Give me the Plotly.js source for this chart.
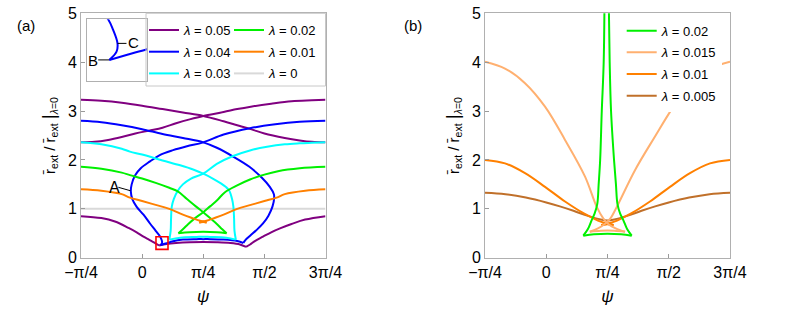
<!DOCTYPE html>
<html>
<head>
<meta charset="utf-8">
<script src="https://cdn.plot.ly/plotly-3.0.1.min.js"></script>
<style>html,body{margin:0;padding:0;background:#fff;}#chart{width:789px;height:314px;}</style>
</head>
<body>
<div id="chart"></div>
<script>
// ---------- tick labels ----------
const tickVals = [-45, 0, 45, 90, 135];            // psi in degrees
const tickText = ['\u2212\u03c0/4', '0', '\u03c0/4', '\u03c0/2', '3\u03c0/4'];
const yTickVals = [0, 1, 2, 3, 4, 5];

// ---------- panel (a) ----------
const a005UpDecX = [-45,-30,-15,0,15,30,45,60,70,80,90,105,116,125,135];
const a005UpDecY = [3.23,3.21,3.17,3.11,3.04,2.97,2.90,2.79,2.71,2.63,2.54,2.45,2.40,2.37,2.36];
const a005UpIncX = [-45,-35,-25,-15,-5,5,15,25,35,45,60,70,80,95,110,125,135];
const a005UpIncY = [2.36,2.37,2.41,2.47,2.54,2.60,2.66,2.75,2.83,2.90,2.98,3.04,3.09,3.15,3.20,3.22,3.23];
const a005LowX = [-45,-30,-20,-10,-4,1,5,9,12.5,18,25,35,45,55,65,72,76.5,79.5,83,89,95,101.5,110,120,135];
const a005LowY = [0.85,0.81,0.74,0.61,0.52,0.43,0.37,0.31,0.25,0.28,0.30,0.315,0.32,0.315,0.30,0.27,0.22,0.27,0.34,0.43,0.52,0.60,0.69,0.78,0.85];
const a005LowCusps = [8, 16];

const a004X = [-45,-30,-15,0,15,30,45,55,67,79,88,94,97,97.2,96,93,89,84,79.5,76,74.5,
               70,60,50,45,40,30,22,19,16,13.5,
               14.56,14.7,14.06,13.33,10,5.8,1,-4,-7.2,-8.3,-7.7,-5,-1,5.8,13,22.8,33,45,60,79.4,98,116,135];
const a004Y = [2.80,2.77,2.71,2.63,2.53,2.45,2.36,2.25,2.07,1.86,1.64,1.45,1.30,1.22,1.05,0.86,0.70,0.56,0.45,0.36,0.30,
               0.34,0.37,0.38,0.38,0.38,0.37,0.33,0.303,0.279,0.258,
               0.293,0.328,0.385,0.43,0.55,0.70,0.88,1.04,1.20,1.35,1.50,1.69,1.83,1.97,2.10,2.20,2.28,2.36,2.52,2.65,2.73,2.78,2.80];
const a004Cusps = [20, 30];

const a003X = [-45,-30,-15,-9,0,15,28,38,45,52,58,61.5,64,66.2,67.2,67.7,68,69,
               62,50,45,40,28,20,
               21,21.3,21.8,23.3,26.5,30,36,45,55,67,80,92,105,116,125,135];
const a003Y = [2.36,2.32,2.23,2.17,2.11,1.99,1.89,1.80,1.72,1.62,1.52,1.45,1.38,1.20,1.04,0.80,0.55,0.37,
               0.41,0.425,0.43,0.425,0.41,0.37,
               0.55,0.80,1.04,1.20,1.38,1.50,1.62,1.72,1.92,2.08,2.20,2.27,2.32,2.34,2.35,2.36];
const a003Cusps = [17, 23];

const a002X = [-45,-30,-15,-9,0,10,20,26,33,40,45,50,55,59,62.2,55,45,35,26.7,30,34,39,45,50,55,61,70,79.4,90,100,116,135];
const a002Y = [1.86,1.82,1.74,1.69,1.62,1.53,1.43,1.36,1.20,1.04,0.93,0.81,0.69,0.58,0.50,0.52,0.53,0.52,0.50,0.58,0.69,0.81,0.93,1.05,1.17,1.34,1.48,1.60,1.70,1.77,1.83,1.86];
const a002Cusps = [14, 18];

const a001X = [-45,-30,-15,-9,0,10,20,30,38,42,44.5,47.5,45,42,45.5,48,52,60,70,80,90,99,105,120,135];
const a001Y = [1.40,1.37,1.30,1.23,1.16,1.08,1.00,0.88,0.80,0.76,0.745,0.72,0.73,0.72,0.745,0.76,0.80,0.88,1.00,1.08,1.16,1.23,1.30,1.37,1.40];
const a001Cusps = [11, 13];

const a000X = [-45, 135];
const a000Y = [1, 1];

// ---------- panel (b) ----------
const b002X = [42.8,42.2,40.8,39.6,38.5,37.5,35.5,33.4,30.5,27.2,35,45,55,62.8,59.5,56.6,54.3,52.3,51.2,49.8,47.6,46.6,45.9];
const b002Y = [5.3,4.0,3.0,2.0,1.5,1.1,0.9,0.77,0.58,0.45,0.48,0.49,0.48,0.45,0.58,0.77,0.9,1.1,1.5,2.0,3.0,4.0,5.3];
const b002Cusps = [9, 13];

const b0015X = [-45,-30.3,-15.6,-0.9,13.8,28.5,37.1,42,46,51,57.9,50,45,40,32,38,42.5,47,51.8,65.2,79.9,93.4,105.6,120.3,135];
const b0015Y = [4.01,3.87,3.57,3.09,2.41,1.66,1.04,0.80,0.68,0.60,0.53,0.55,0.555,0.55,0.53,0.60,0.68,0.80,1.04,1.79,2.48,3.09,3.57,3.87,4.01];
const b0015Cusps = [10, 14];

const b001X = [-45,-30.3,-15.6,-0.9,13.8,28,38,43,49.5,45,40.5,47,52,62,76.2,90.9,105.6,120.3,135];
const b001Y = [2.0,1.93,1.73,1.45,1.15,0.90,0.76,0.71,0.67,0.685,0.67,0.71,0.76,0.90,1.15,1.45,1.73,1.93,2.0];
const b001Cusps = [8, 10];

const b0005X = [-45,-30,-15,0,10,20,30,40,45,50,60,70,80,90,105,120,135];
const b0005Y = [1.33,1.30,1.23,1.13,1.05,0.96,0.86,0.78,0.76,0.78,0.86,0.96,1.05,1.13,1.23,1.30,1.33];

// ---------- helpers ----------
const W = 789, H = 314;
const px = v => v / W;
const py = v => 1 - v / H;
const FONT = 'Liberation Sans, Arial, sans-serif';
const LW = 2;

const cPurple = '#800080', cBlue = '#0000ff', cCyan = '#00ffff', cGreen = '#00f000',
      cOrange = '#ff8000', cGray = '#d9d9d9', cLightOr = '#ffb070', cBrown = '#c0702a';

// split a curve at its cusps into smooth pieces (null-separated, cusp point repeated)
function atCusps(xs, ys, cusps) {
  const X = [], Y = [];
  let start = 0;
  const cuts = (cusps || []).concat([xs.length - 1]);
  cuts.forEach((c, k) => {
    if (k) { X.push(null); Y.push(null); }
    for (let i = start; i <= c; i++) { X.push(xs[i]); Y.push(ys[i]); }
    start = c;
  });
  return [X, Y];
}
function joinSeg(parts) {
  const X = [], Y = [];
  parts.forEach((p, i) => { if (i) { X.push(null); Y.push(null); } X.push(...p[0]); Y.push(...p[1]); });
  return [X, Y];
}

const P5 = joinSeg([[a005UpDecX, a005UpDecY], [a005UpIncX, a005UpIncY], atCusps(a005LowX, a005LowY, a005LowCusps)]);
const P4 = atCusps(a004X, a004Y, a004Cusps);
const P3 = atCusps(a003X, a003Y, a003Cusps);
const P2 = atCusps(a002X, a002Y, a002Cusps);
const P1 = atCusps(a001X, a001Y, a001Cusps);
const Q2 = atCusps(b002X, b002Y, b002Cusps);
const Q15 = atCusps(b0015X, b0015Y, b0015Cusps);
const Q1 = atCusps(b001X, b001Y, b001Cusps);

function tr(P, color, name, legend, rank, xa, ya, show) {
  return {
    x: P[0], y: P[1], type: 'scatter', mode: 'lines', name: name,
    line: {color: color, width: LW, shape: 'spline', smoothing: 1},
    connectgaps: false, xaxis: xa, yaxis: ya,
    legend: legend, legendgroup: name + legend, legendrank: rank,
    showlegend: show !== false, hoverinfo: 'skip'
  };
}
const lam = v => '<i>\u03bb</i> = ' + v;

const data = [
  tr([a000X, a000Y], cGray, lam('0'), 'legend2', 3, 'x', 'y'),
  tr(P5, cPurple, lam('0.05'), 'legend', 1, 'x', 'y'),
  tr(P4, cBlue, lam('0.04'), 'legend', 2, 'x', 'y'),
  tr(P3, cCyan, lam('0.03'), 'legend', 3, 'x', 'y'),
  tr(P2, cGreen, lam('0.02'), 'legend2', 1, 'x', 'y'),
  tr(P1, cOrange, lam('0.01'), 'legend2', 2, 'x', 'y'),
  // inset: the same blue curve seen through a zoomed pair of axes
  tr(P4, cBlue, 'inset', 'legend', 9, 'x3', 'y3', false),
  // panel (b)
  tr([b0005X, b0005Y], cBrown, lam('0.005'), 'legend3', 4, 'x2', 'y2'),
  tr(Q1, cOrange, lam('0.01'), 'legend3', 3, 'x2', 'y2'),
  tr(Q15, cLightOr, lam('0.015'), 'legend3', 2, 'x2', 'y2'),
  tr(Q2, cGreen, lam('0.02'), 'legend3', 1, 'x2', 'y2')
];

const yTitle = 'r\u0304<sub>ext</sub> / r\u0304<sub>ext</sub> <span style="font-size:19px">|</span><sub><i>\u03bb</i>=0</sub>';

function xAx(dom, anchor) {
  return {
    domain: dom, anchor: anchor, range: [-45, 135], tickvals: tickVals, ticktext: tickText,
    ticks: 'inside', ticklen: 4, tickcolor: '#9a9a9a', tickwidth: 1,
    showline: true, mirror: true, linecolor: '#b0b0b0', linewidth: 1,
    showgrid: false, zeroline: false, automargin: false,
    tickfont: {family: FONT, size: 16, color: '#000'},
    title: {text: '<i>\u03c8</i>', font: {family: FONT, size: 17, color: '#000'}, standoff: 10}
  };
}
function yAx(anchor) {
  return {
    domain: [56.3 / H, 300.7 / H], anchor: anchor, range: [0, 5], tickvals: yTickVals,
    ticks: 'inside', ticklen: 4, tickcolor: '#9a9a9a', tickwidth: 1,
    showline: true, mirror: true, linecolor: '#b0b0b0', linewidth: 1,
    showgrid: false, zeroline: false, automargin: false,
    tickfont: {family: FONT, size: 16, color: '#000'},
    title: {text: yTitle, font: {family: FONT, size: 15, color: '#000'}, standoff: 8}
  };
}
function legendAt(xPix, yPix, bg) {
  return {
    x: px(xPix), y: py(yPix), xanchor: 'left', yanchor: 'top',
    bgcolor: bg, borderwidth: 0, traceorder: 'grouped', tracegroupgap: 1.8,
    font: {family: FONT, size: 13, color: '#000'}, itemclick: false, itemdoubleclick: false
  };
}

const layout = {
  width: W, height: H, margin: {l: 0, r: 0, t: 0, b: 0},
  paper_bgcolor: '#fff', plot_bgcolor: '#fff',
  font: {family: FONT, color: '#000'},
  xaxis: xAx([81 / W, 325.5 / W], 'y'),
  yaxis: yAx('x'),
  xaxis2: xAx([485 / W, 730 / W], 'y2'),
  yaxis2: yAx('x2'),
  xaxis3: {domain: [86.7 / W, 147.3 / W], anchor: 'y3', range: [10.2, 19.05],
           showline: true, mirror: true, linecolor: '#b0b0b0', linewidth: 1,
           showgrid: false, zeroline: false, showticklabels: false, ticks: ''},
  yaxis3: {domain: [py(80.7), py(19.3)], anchor: 'x3', range: [0.17, 0.43],
           showline: true, mirror: true, linecolor: '#b0b0b0', linewidth: 1,
           showgrid: false, zeroline: false, showticklabels: false, ticks: ''},
  legend: legendAt(144, 15.05, 'rgba(0,0,0,0)'),
  legend2: legendAt(229, 15.05, 'rgba(0,0,0,0)'),
  legend3: legendAt(621.7, 15.7, '#ffffff'),
  shapes: [
    // legend frame of panel (a)
    {type: 'rect', xref: 'paper', yref: 'paper', x0: px(146), x1: px(325.5), y0: py(86), y1: py(13.3),
     line: {color: '#c8c8c8', width: 1}, layer: 'above'},
    // red box marking the inset region
    {type: 'rect', xref: 'x', yref: 'y', x0: 10.2, x1: 19.05, y0: 0.17, y1: 0.43,
     line: {color: '#ff0000', width: 1.6}, layer: 'above'},
    // pointer for label A
    {type: 'line', xref: 'x', yref: 'y', x0: -17.5, y0: 1.44, x1: -8.6, y1: 1.37,
     line: {color: '#000', width: 1}},
    // pointers for labels B and C inside the inset
    {type: 'line', xref: 'x3', yref: 'y3', x0: 14.7, y0: 0.328, x1: 16.01, y1: 0.328,
     line: {color: '#000', width: 1}},
    {type: 'line', xref: 'x3', yref: 'y3', x0: 11.88, y0: 0.258, x1: 13.48, y1: 0.258,
     line: {color: '#000', width: 1}}
  ],
  annotations: [
    {text: '(a)', xref: 'paper', yref: 'paper', x: px(15), y: py(15), showarrow: false,
     font: {family: FONT, size: 15, color: '#000'}},
    {text: '(b)', xref: 'paper', yref: 'paper', x: px(413), y: py(15), showarrow: false,
     font: {family: FONT, size: 15, color: '#000'}},
    {text: 'A', xref: 'x', yref: 'y', x: -20.5, y: 1.43, showarrow: false,
     font: {family: FONT, size: 16, color: '#000'}},
    {text: 'B', xref: 'x3', yref: 'y3', x: 11.16, y: 0.255, showarrow: false,
     font: {family: FONT, size: 15, color: '#000'}},
    {text: 'C', xref: 'x3', yref: 'y3', x: 17.07, y: 0.333, showarrow: false,
     font: {family: FONT, size: 15, color: '#000'}}
  ],
  showlegend: true
};

Plotly.newPlot('chart', data, layout, {staticPlot: true, displayModeBar: false});
</script>
</body>
</html>
